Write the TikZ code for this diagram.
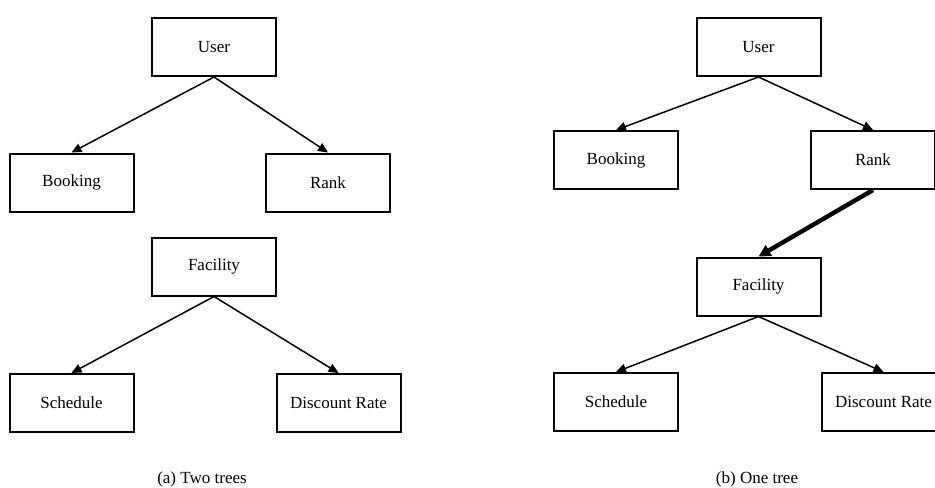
\documentclass[tikz,border=0pt]{standalone}
\usepackage{fontspec}
\setmainfont{Liberation Serif}
\usetikzlibrary{arrows.meta}
\tikzset{
	box/.style={draw, line width=1pt, minimum width=62pt, minimum height=29pt, inner sep=0pt, font=\fontsize{8.5}{10}\selectfont},
	link/.style={-{Triangle[length=5pt, width=4.5pt]}, line width=0.75pt},
	boldlink/.style={-{Triangle[length=6pt, width=6pt]}, line width=2.2pt},
	caption/.style={font=\fontsize{8.5}{10}\selectfont}
}
\begin{document}
\begin{tikzpicture}[x=0.5pt, y=-0.5pt]
	\useasboundingbox (0,0) rectangle (935,487);

	%two trees
	\node[box] (userA) at (214,47) {User};
	\node[box] (bookA) at (71.5,182.5) {Booking};
	\node[box] (rankA) at (328,182.5) {Rank};
	\node[box] (facA) at (214,266.5) {Facility};
	\node[box] (schedA) at (71.5,403) {Schedule};
	\node[box] (discA) at (338.5,403) {Discount Rate};

	\draw[link] (userA.south) -- (bookA.north);
	\draw[link] (userA.south) -- (rankA.north);
	\draw[link] (facA.south) -- (schedA.north);
	\draw[link] (facA.south) -- (discA.north);

	%one tree
	\node[box] (userB) at (758.5,47) {User};
	\node[box] (bookB) at (616,160) {Booking};
	\node[box] (rankB) at (873,160) {Rank};
	\node[box] (facB) at (758.5,286.5) {Facility};
	\node[box] (schedB) at (616,402) {Schedule};
	\node[box] (discB) at (883.5,402) {Discount Rate};

	\draw[link] (userB.south) -- (bookB.north);
	\draw[link] (userB.south) -- (rankB.north);
	\draw[boldlink] (rankB.south) -- (facB.north);
	\draw[link] (facB.south) -- (schedB.north);
	\draw[link] (facB.south) -- (discB.north);

	%captions
	\node[caption] (capA) at (202,479) {(a) Two trees};
	\node[caption] (capB) at (757,479) {(b) One tree};
\end{tikzpicture}
\end{document}
